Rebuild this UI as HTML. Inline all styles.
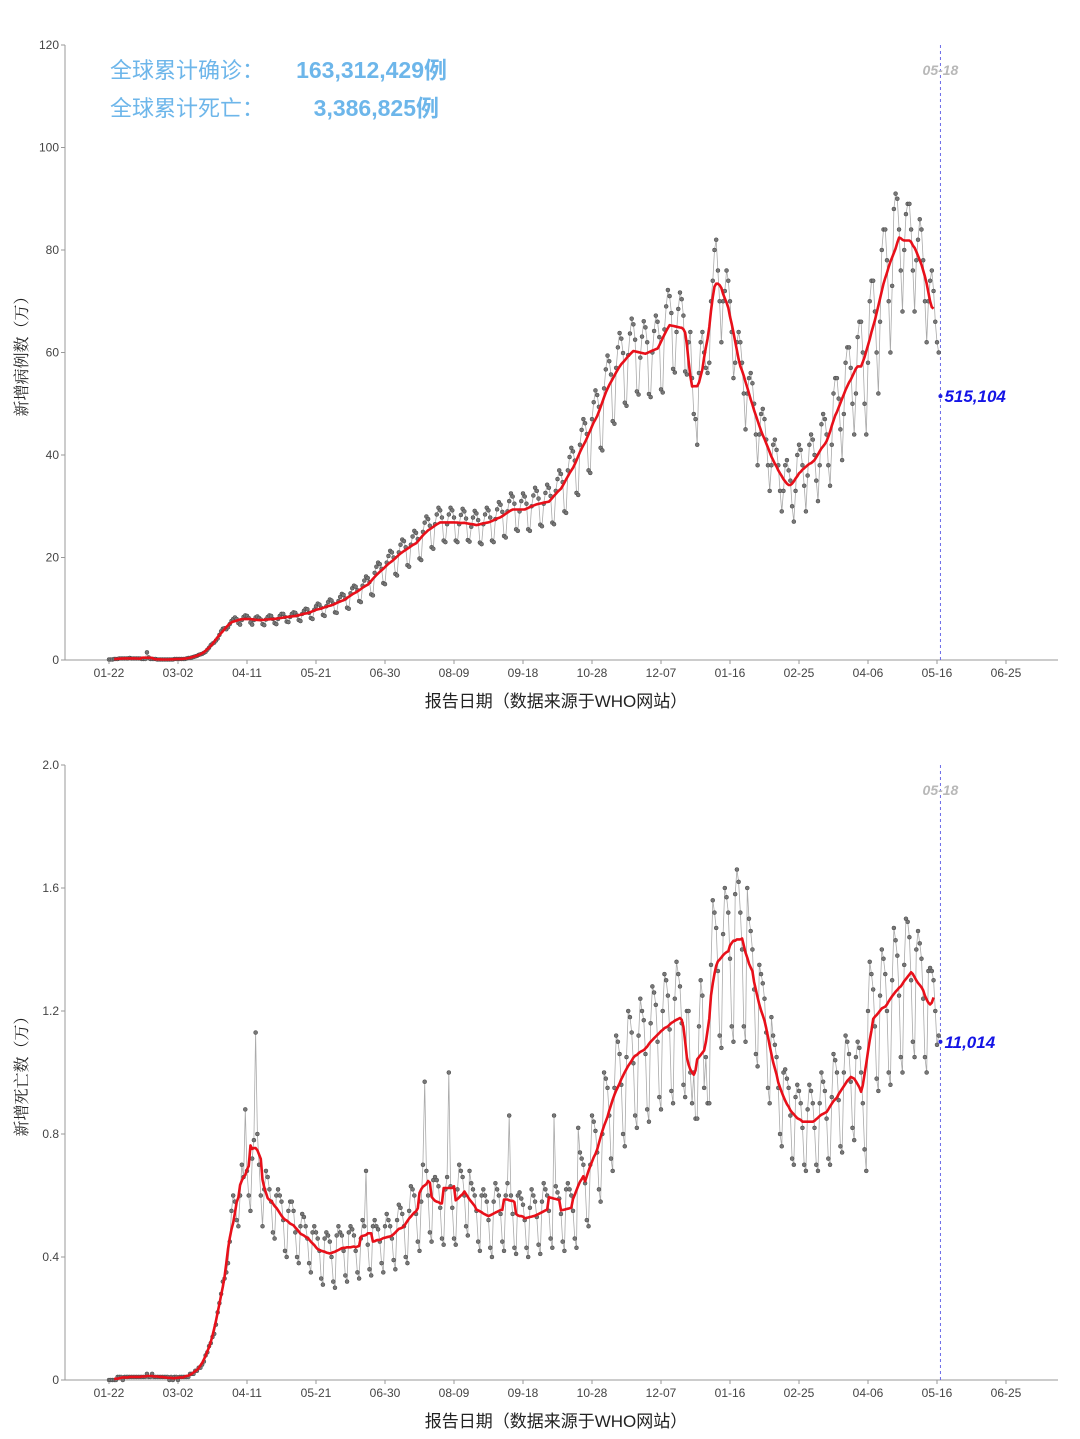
<!DOCTYPE html>
<html><head><meta charset="utf-8">
<style>
html,body{margin:0;padding:0;background:#fff;}
svg{display:block;font-family:"Liberation Sans","Noto Sans CJK SC",sans-serif;}
</style></head>
<body>
<svg id="svg" width="1080" height="1439" viewBox="0 0 1080 1439">
<g id="c1"></g>
<g id="c2"></g>
<text x="110" y="78" font-size="22" fill="#6db6ea">全球累计确诊：</text>
<text x="447" y="78" font-size="23" font-weight="bold" fill="#6db6ea" text-anchor="end">163,312,429例</text>
<text x="110" y="116" font-size="22" fill="#6db6ea">全球累计死亡：</text>
<text x="439" y="116" font-size="23" font-weight="bold" fill="#6db6ea" text-anchor="end">3,386,825例</text>
</svg>
<script>
const xTickLabels = ["01-22","03-02","04-11","05-21","06-30","08-09","09-18","10-28","12-07","01-16","02-25","04-06","05-16","06-25"];
const casesTicks = [0,20,40,60,80,100,120];
const deathsTicks = [0,0.4,0.8,1.2,1.6,2.0];
const deathsTickLabels = ["0","0.4","0.8","1.2","1.6","2.0"];
const cases = [
0.1,0.1,0.1,0.2,0.2,0.2,0.3, 0.3,0.3,0.3,0.3,0.3,0.4,0.3, 0.3,0.3,0.3,0.3,0.3,0.2,0.2, 0.2,1.5,0.5,0.2,0.2,0.2,0.2,
0.1,0.1,0.1,0.1,0.1,0.1,0.1, 0.1,0.1,0.1,0.2,0.2,0.2,0.2, 0.2,0.2,0.2,0.3,0.4,0.4,0.5, 0.6,0.7,0.8,1.0,1.1,1.2,1.4,
1.6,2.0,2.4,2.9,3.2,3.4,3.8, 4.2,4.9,5.6,6.1,6.2,6.0,6.4, 7.0,7.6,8.0,8.3,8.0,7.2,6.9, 7.8,8.4,8.7,8.6,8.2,7.3,6.9,
7.8,8.3,8.5,8.2,7.9,7.0,6.8, 7.9,8.4,8.7,8.6,8.0,7.2,7.0, 8.0,8.6,9.0,9.0,8.4,7.5,7.4, 8.4,9.0,9.3,9.2,8.7,7.8,7.6,
9.0,9.6,10.0,9.9,9.2,8.2,8.0, 9.8,10.5,11.0,10.8,10.2,8.8,8.6, 10.5,11.3,11.8,11.6,11.0,9.3,9.2, 11.5,12.3,12.9,12.7,12.0,10.2,10.0,
13.0,14.0,14.5,14.3,13.6,11.5,11.3, 14.5,15.5,16.3,16.0,15.2,12.8,12.6, 17.0,18.2,19.0,18.7,17.8,15.0,14.8, 19.0,20.3,21.3,21.0,20.0,16.8,16.5,
21.0,22.5,23.5,23.2,22.0,18.5,18.2, 22.5,24.1,25.2,24.8,23.6,19.8,19.5, 25.0,26.8,28.0,27.5,26.2,22.0,21.7, 26.5,28.4,29.7,29.2,27.8,23.3,23.0,
26.5,28.4,29.7,29.2,27.8,23.3,23.0, 26.5,28.3,29.5,29.0,27.6,23.4,23.1, 26.0,27.8,29.1,28.6,27.3,22.9,22.6, 26.5,28.4,29.7,29.2,27.8,23.3,23.0,
27.5,29.4,30.8,30.3,28.9,24.2,23.9, 29.0,31.0,32.5,31.9,30.5,25.5,25.2, 29.0,31.0,32.5,31.9,30.5,25.5,25.2, 30.0,32.1,33.6,33.0,31.5,26.4,26.1,
30.5,32.6,34.2,33.6,32.0,26.8,26.5, 33.0,35.3,37.0,36.3,34.7,29.0,28.7, 37.0,39.6,41.4,40.7,38.9,32.6,32.2, 42.0,44.9,47.0,46.2,44.1,37.0,36.5,
47.0,50.3,52.6,51.7,49.4,41.4,40.9, 53.0,56.7,59.4,58.3,55.7,46.6,46.1, 57.0,61.0,63.8,62.7,59.9,50.2,49.6, 59.5,63.7,66.6,65.5,62.5,52.4,51.8,
59.0,63.1,66.1,64.9,62.0,51.9,51.3, 60.0,64.2,67.2,66.0,63.0,52.8,52.2, 64.5,69.0,72.2,71.0,67.7,56.8,56.1, 64.0,68.5,71.7,70.4,67.2,56.3,55.7,
62,64,55,48,47,42,56, 62,64,60,57,56,58,70, 74,80,82,76,70,62,70, 72,76,74,70,64,55,58,
62,64,62,58,52,45,52, 55,56,54,50,44,38,44, 48,49,47,43,38,33,38, 42,43,41,38,33,29,33,
38,39,37,35,30,27,33, 40,42,41,38,34,29,36, 42,44,43,40,35,31,38, 46,48,47,44,38,34,42,
52,55,55,51,45,39,48, 58,61,61,57,50,44,52, 63,66,66,60,50,44,58, 70,74,74,68,60,52,66,
80,84,84,78,70,60,73, 88,91,90,84,76,68,80, 87,89,89,84,76,68,78, 82,86,84,78,70,62,70,
74,76,72,66,62,60,51.5];
const deaths = [
0,0,0,0,0,0.01,0.01, 0.01,0,0.01,0.01,0.01,0.01,0.01, 0.01,0.01,0.01,0.01,0.01,0.01,0.01, 0.01,0.02,0.01,0.01,0.02,0.01,0.01,
0.01,0.01,0.01,0.01,0.01,0.01,0.01, 0,0.01,0,0.01,0.01,0,0.01, 0.01,0.01,0.01,0.01,0.01,0.02,0.02, 0.02,0.03,0.03,0.04,0.04,0.05,0.06,
0.08,0.09,0.11,0.12,0.14,0.15,0.18, 0.22,0.25,0.28,0.32,0.33,0.35,0.38, 0.45,0.55,0.6,0.58,0.52,0.5,0.6, 0.7,0.66,0.88,0.68,0.6,0.55,0.72,
0.78,1.13,0.8,0.7,0.6,0.5,0.62, 0.68,0.66,0.62,0.58,0.48,0.46,0.6, 0.62,0.6,0.58,0.52,0.42,0.4,0.55, 0.58,0.58,0.55,0.48,0.4,0.38,0.5,
0.54,0.53,0.5,0.46,0.38,0.35,0.48, 0.5,0.48,0.46,0.42,0.33,0.31,0.46, 0.48,0.47,0.45,0.4,0.32,0.3,0.47, 0.5,0.48,0.47,0.42,0.34,0.32,0.48,
0.5,0.49,0.47,0.42,0.35,0.33,0.46, 0.52,0.5,0.68,0.44,0.36,0.34,0.5, 0.52,0.5,0.49,0.45,0.38,0.35,0.5, 0.54,0.52,0.5,0.46,0.39,0.36,0.52,
0.57,0.56,0.54,0.5,0.4,0.38,0.55, 0.63,0.62,0.6,0.54,0.45,0.42,0.58, 0.7,0.97,0.68,0.6,0.48,0.45,0.65, 0.66,0.65,0.63,0.56,0.46,0.44,0.62,
0.66,1.0,0.63,0.56,0.46,0.44,0.62, 0.7,0.68,0.66,0.6,0.5,0.47,0.68, 0.64,0.62,0.6,0.55,0.45,0.42,0.6, 0.62,0.6,0.58,0.52,0.43,0.4,0.58,
0.64,0.62,0.6,0.54,0.45,0.42,0.6, 0.64,0.86,0.6,0.54,0.43,0.41,0.6, 0.61,0.59,0.57,0.52,0.43,0.4,0.56, 0.62,0.6,0.58,0.53,0.44,0.41,0.58,
0.64,0.62,0.6,0.55,0.46,0.43,0.86, 0.63,0.61,0.59,0.54,0.45,0.42,0.62, 0.64,0.62,0.6,0.55,0.46,0.43,0.82, 0.74,0.72,0.7,0.64,0.52,0.5,0.7,
0.86,0.84,0.81,0.74,0.62,0.58,0.8, 1.0,0.98,0.95,0.86,0.72,0.68,0.95, 1.12,1.1,1.06,0.96,0.8,0.76,1.05, 1.2,1.18,1.13,1.03,0.86,0.82,1.12,
1.24,1.2,1.17,1.06,0.88,0.84,1.16, 1.28,1.26,1.22,1.1,0.92,0.88,1.2, 1.32,1.3,1.25,1.14,0.94,0.9,1.24, 1.36,1.32,1.28,1.16,0.96,0.92,1.2,
1.2,1.0,0.9,1.0,0.85,0.85,1.15, 1.3,1.25,0.95,1.05,0.9,0.9,1.35, 1.56,1.52,1.47,1.33,1.12,1.08,1.45, 1.6,1.57,1.52,1.37,1.15,1.1,1.58,
1.66,1.62,1.52,1.4,1.15,1.1,1.6, 1.5,1.46,1.4,1.27,1.06,1.02,1.35, 1.32,1.29,1.24,1.13,0.95,0.9,1.18, 1.12,1.09,1.05,0.95,0.8,0.76,1.0,
1.01,0.98,0.95,0.86,0.72,0.7,0.92, 0.96,0.94,0.9,0.82,0.7,0.68,0.88, 0.96,0.94,0.9,0.82,0.7,0.68,0.9, 1.0,0.97,0.94,0.85,0.72,0.7,0.92,
1.06,1.04,1.0,0.91,0.76,0.74,1.0, 1.12,1.1,1.06,0.97,0.82,0.78,1.05, 1.1,1.08,1.0,0.9,0.75,0.68,1.2, 1.36,1.32,1.27,1.15,0.98,0.94,1.25,
1.4,1.37,1.32,1.2,1.0,0.96,1.3, 1.47,1.43,1.38,1.25,1.05,1.0,1.35, 1.5,1.49,1.44,1.3,1.1,1.05,1.4, 1.46,1.42,1.37,1.24,1.05,1.0,1.33,
1.34,1.33,1.3,1.2,1.09,1.12,1.10];
const casesLast = "515,104";
const deathsLast = "11,014";
const markerDay = 482;

const NS = "http://www.w3.org/2000/svg";
function mk(parent, tag, attrs, text){
  const e = document.createElementNS(NS, tag);
  for (const k in attrs) e.setAttribute(k, attrs[k]);
  if (text !== undefined) e.textContent = text;
  parent.appendChild(e);
  return e;
}
const xScale = d => 109 + d * 1.725;

function drawChart(gid, data, top, bottom, ymax, ticks, tickLabels, ytitle, lastLabel){
  const g = document.getElementById(gid);
  const yScale = v => bottom - v / ymax * (bottom - top);
  const L = 65, R = 1058;
  let e;
  e = mk(g, "line", {x1:L, y1:top, x2:L, y2:bottom, stroke:"#999", "stroke-width":1});
  
  
  e = mk(g, "line", {x1:L, y1:bottom, x2:R, y2:bottom, stroke:"#999", "stroke-width":1});
  
  
  ticks.forEach((t, i) => {
    const y = yScale(t);
    mk(g, "line", {x1:L-4, y1:y, x2:L, y2:y, stroke:"#999"});
    e = mk(g, "text", {x:L-6, y:y+4, "font-size":12, fill:"#444", "text-anchor":"end"}, tickLabels[i]);
    
    
  });
  xTickLabels.forEach((lab, i) => {
    const x = xScale(i * 40);
    mk(g, "line", {x1:x, y1:bottom, x2:x, y2:bottom+4, stroke:"#999"});
    e = mk(g, "text", {x:x, y:bottom+17, "font-size":12, fill:"#444", "text-anchor":"middle"}, lab);
    
    
  });
  e = mk(g, "text", {x:556, y:bottom+47, "font-size":17, fill:"#222", "text-anchor":"middle"}, "报告日期（数据来源于WHO网站）");
  
  
  const cy = (top + bottom) / 2;
  e = mk(g, "text", {x:0, y:0, "font-size":16, fill:"#222", "text-anchor":"middle", "font-family":"'Noto Serif CJK SC',serif", transform:`translate(27 ${cy}) rotate(-90)`}, ytitle);
  
  
  const mx = xScale(markerDay);
  e = mk(g, "line", {x1:mx, y1:top, x2:mx, y2:bottom, stroke:"#6a6ae8", "stroke-width":1, "stroke-dasharray":"3,3"});
  
  
  e = mk(g, "text", {x:mx, y:top+30, "font-size":14, fill:"#b8b8b8", "font-weight":"bold", "font-style":"italic", "text-anchor":"middle"}, "05-18");
  
  
  const n = data.length;
  let d = "";
  for (let i = 0; i < n - 1; i++) d += (i ? "L" : "M") + xScale(i).toFixed(1) + "," + yScale(data[i]).toFixed(1);
  e = mk(g, "path", {d:d, fill:"none", stroke:"#aaa", "stroke-width":0.8});
  
  
  for (let i = 0; i < n - 1; i++) {
    e = mk(g, "circle", {cx:xScale(i), cy:yScale(data[i]), r:2, fill:"#777", stroke:"#444", "stroke-width":0.5});
    
    
  }
  let p = "";
  for (let i = 3; i <= n - 5; i++) {
    let s = 0; for (let k = -3; k <= 3; k++) s += data[i + k];
    p += (i > 3 ? "L" : "M") + xScale(i).toFixed(1) + "," + yScale(s / 7).toFixed(1);
  }
  e = mk(g, "path", {d:p, fill:"none", stroke:"#e8101a", "stroke-width":2.6, "stroke-linejoin":"round"});
  
  
  const ly = yScale(data[n - 1]);
  e = mk(g, "circle", {cx:mx, cy:ly, r:2, fill:"#2020e0"});
  
  
  e = mk(g, "text", {x:mx + 4, y:ly + 6, "font-size":17, fill:"#1414e6", "font-style":"italic", "font-weight":"bold"}, lastLabel);
  
  
}
drawChart("c1", cases, 45, 660, 120, casesTicks, casesTicks.map(String), "新增病例数（万）", casesLast);
drawChart("c2", deaths, 765, 1380, 2.0, deathsTicks, deathsTickLabels, "新增死亡数（万）", deathsLast);
</script>
</body></html>
